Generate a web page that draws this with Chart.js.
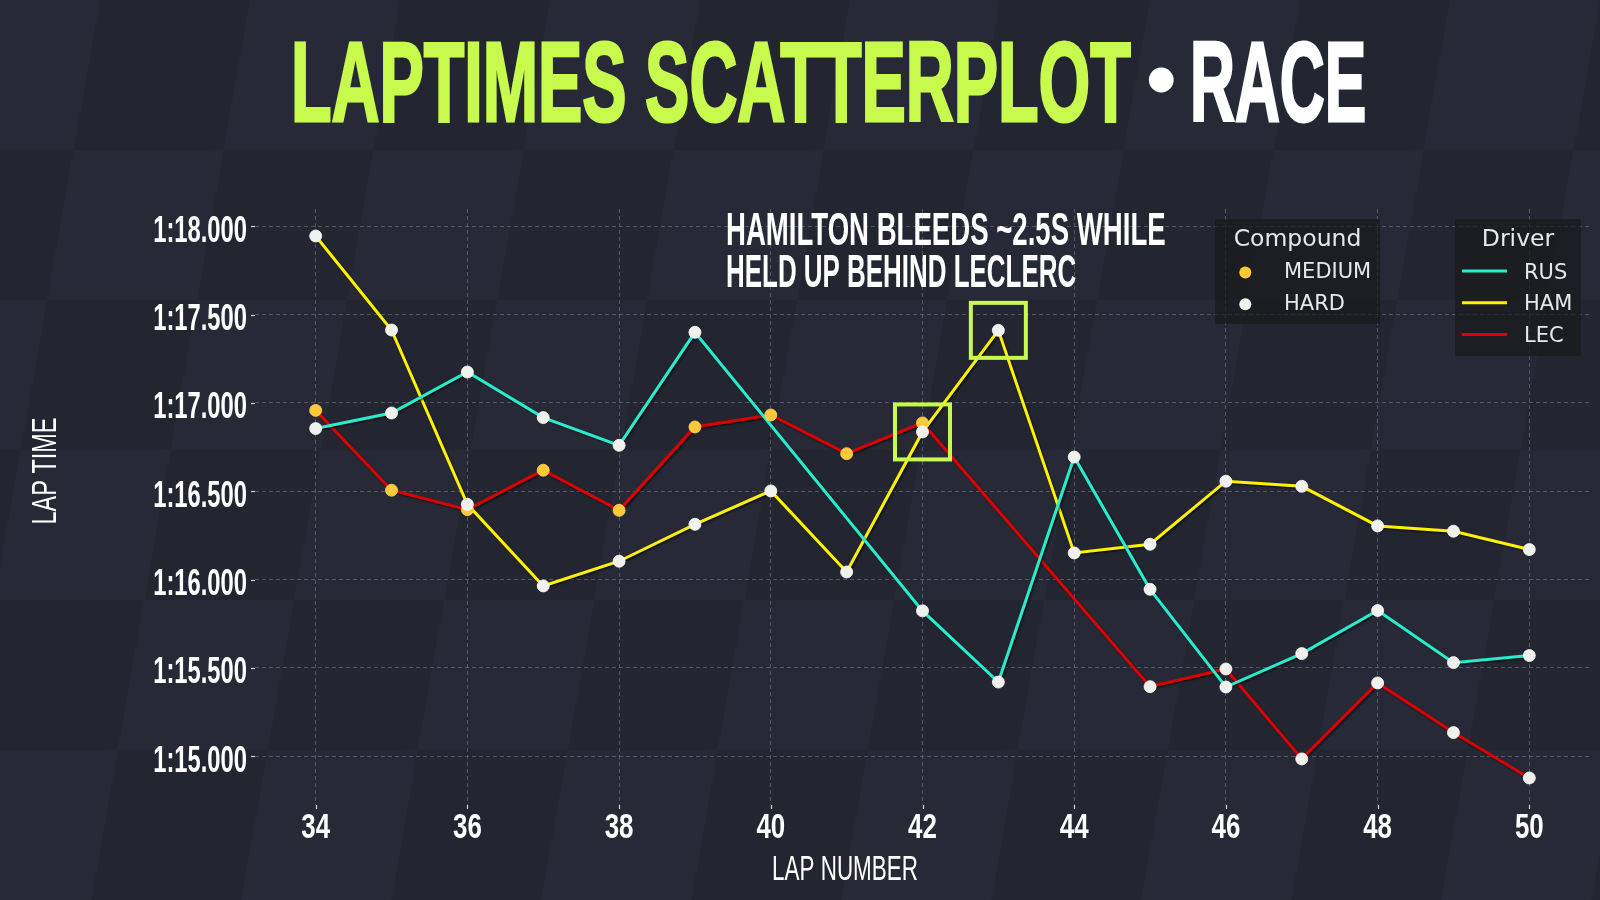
<!DOCTYPE html>
<html>
<head>
<meta charset="utf-8">
<title>Laptimes Scatterplot • Race</title>
<script src="https://cdn.jsdelivr.net/npm/chart.js@4.4.1/dist/chart.umd.min.js"></script>
<style>
    html, body { margin: 0; padding: 0; }
    body {
        width: 1600px; height: 900px; overflow: hidden; position: relative;
        background: #252833;
    }
    #bg {
        position: absolute; left: -200px; top: 0; width: 2200px; height: 900px;
        background: repeating-conic-gradient(#272a36 0 25%, #232631 0 50%) 0 0 / 300px 300px;
        transform: skewX(-10deg); transform-origin: 0 0;
    }
    #title { position: absolute; left: 0; top: 0; margin: 0; font-weight: bold; }
    #title span { position: absolute; white-space: nowrap; transform-origin: 0 0; }
    #title .lime { color: #c8fa4e; -webkit-text-stroke: 3px #c8fa4e; }
    #title .white { color: #ffffff; -webkit-text-stroke: 3px #ffffff; }
    #chart { position: absolute; left: 0; top: 0; }
</style>
</head>
<body>
<div id="bg"></div>
<h1 id="title"><span id="t1" class="lime">LAPTIMES SCATTERPLOT</span><span id="t2" class="white">•</span><span id="t3" class="white">RACE</span></h1>
<canvas id="chart" width="1600" height="900"></canvas>

<script>
// --- data (lap times in seconds) ---
const laps = [34, 35, 36, 37, 38, 39, 40, 41, 42, 43, 44, 45, 46, 47, 48, 49, 50];

const rusTimes = [76.855, 76.943, 77.175, 76.917, 76.760, 77.400, null, null, 75.823, 75.420, 76.694, 75.945, 75.392, 75.581, 75.825, 75.530, 75.570];
const hamTimes = [77.945, 77.413, 76.426, 75.964, 76.104, 76.313, 76.502, 76.043, 76.836, 77.411, 76.151, 76.200, 76.557, 76.528, 76.304, 76.274, 76.170];
const lecTimes = [76.958, 76.506, 76.396, 76.619, 76.392, 76.864, 76.932, 76.713, 76.887, null, null, 75.394, 75.494, 74.985, 75.415, 75.134, 74.877];

const rusCompounds = ['HARD', 'HARD', 'HARD', 'HARD', 'HARD', 'HARD', null, null, 'HARD', 'HARD', 'HARD', 'HARD', 'HARD', 'HARD', 'HARD', 'HARD', 'HARD'];
const hamCompounds = ['HARD', 'HARD', 'HARD', 'HARD', 'HARD', 'HARD', 'HARD', 'HARD', 'HARD', 'HARD', 'HARD', 'HARD', 'HARD', 'HARD', 'HARD', 'HARD', 'HARD'];
const lecCompounds = ['MEDIUM', 'MEDIUM', 'MEDIUM', 'MEDIUM', 'MEDIUM', 'MEDIUM', 'MEDIUM', 'MEDIUM', 'MEDIUM', null, null, 'HARD', 'HARD', 'HARD', 'HARD', 'HARD', 'HARD'];

const drivers = ['RUS', 'HAM', 'LEC'];
const compounds = ['MEDIUM', 'HARD'];

const xTicks = [34, 36, 38, 40, 42, 44, 46, 48, 50];
const yTicks = [75.0, 75.5, 76.0, 76.5, 77.0, 77.5, 78.0];

// laps boxed in the annotation (Hamilton's points)
const boxedLaps = [42, 43];
const annotationLines = ['HAMILTON BLEEDS ~2.5S WHILE', 'HELD UP BEHIND LECLERC'];
const annotationWidths = [437, 348];

// --- styles ---
const driverColors = { RUS: '#27ecce', HAM: '#fff200', LEC: '#dc0000' };
const compoundColors = { MEDIUM: '#fdc938', HARD: '#f0f0ec' };
const LIME = '#c8fa4e';
const COND = "'Liberation Sans', Arial, sans-serif";
const LEGEND_FONT = "'DejaVu Sans', sans-serif";

const series = {
    RUS: { times: rusTimes, comp: rusCompounds },
    HAM: { times: hamTimes, comp: hamCompounds },
    LEC: { times: lecTimes, comp: lecCompounds }
};

function driverPoints(d) {
    return laps.map((lap, i) => ({ x: lap, y: series[d].times[i] })).filter(p => p.y !== null);
}

function compoundPoints(c) {
    const pts = [];
    drivers.forEach(d => {
        laps.forEach((lap, i) => {
            if (series[d].comp[i] === c && series[d].times[i] !== null) {
                pts.push({ x: lap, y: series[d].times[i] });
            }
        });
    });
    return pts;
}

function formatLap(v) {
    const min = Math.floor(v / 60);
    const sec = (v - min * 60).toFixed(3).padStart(6, '0');
    return min + ':' + sec;
}

// condensed text: scale horizontally around the anchor
function drawCond(ctx, text, x, y, o) {
    ctx.save();
    ctx.font = `${o.weight || 'bold'} ${o.size}px ${COND}`;
    ctx.fillStyle = o.color || '#ffffff';
    ctx.textAlign = o.align || 'left';
    ctx.textBaseline = 'alphabetic';
    let sx = o.sx;
    if (o.width) {
        const m = ctx.measureText(text);
        sx = o.width / (m.actualBoundingBoxLeft + m.actualBoundingBoxRight);
    }
    ctx.translate(x, y);
    if (o.rotate) ctx.rotate(o.rotate);
    ctx.scale(sx, 1);
    ctx.fillText(text, 0, 0);
    ctx.restore();
}

const datasets = [];
drivers.forEach(d => {
    datasets.push({
        type: 'line',
        label: d,
        data: driverPoints(d),
        borderColor: driverColors[d],
        borderWidth: 3,
        pointRadius: 0,
        fill: false,
        tension: 0,
        order: 3
    });
});
compounds.forEach(c => {
    datasets.push({
        type: 'scatter',
        label: c,
        data: compoundPoints(c),
        backgroundColor: compoundColors[c],
        borderColor: c === 'HARD' ? '#ffffff' : '#ffd75e',
        borderWidth: 0.8,
        pointRadius: 6,
        order: c === 'HARD' ? 1 : 2
    });
});

// soft shadow under the driver lines
const lineShadow = {
    id: 'lineShadow',
    beforeDatasetDraw(chart, args) {
        if (args.meta.type !== 'line') return;
        const ctx = chart.ctx;
        ctx.save();
        ctx.shadowColor = 'rgba(0, 0, 0, 0.55)';
        ctx.shadowOffsetX = 1.5;
        ctx.shadowOffsetY = 1.5;
        ctx.shadowBlur = 1.5;
    },
    afterDatasetDraw(chart, args) {
        if (args.meta.type !== 'line') return;
        chart.ctx.restore();
    }
};

const decor = {
    id: 'decor',
    afterDatasetsDraw(chart) {
        const { ctx, scales: { x, y } } = chart;
        ctx.save();
        ctx.strokeStyle = LIME;
        ctx.lineWidth = 4;
        boxedLaps.forEach(lap => {
            const i = laps.indexOf(lap);
            const px = x.getPixelForValue(lap);
            const py = y.getPixelForValue(hamTimes[i]);
            ctx.strokeRect(px - 27.5, py - 27.5, 55, 55);
        });
        ctx.restore();
    },
    afterDraw(chart) {
        const { ctx, chartArea: a, scales: { x, y } } = chart;

        // tick marks
        ctx.save();
        ctx.strokeStyle = '#cfd0d4';
        ctx.lineWidth = 1.2;
        y.ticks.forEach(t => {
            const py = Math.round(y.getPixelForValue(t.value)) + 0.5;
            ctx.beginPath(); ctx.moveTo(a.left - 4, py); ctx.lineTo(a.left, py); ctx.stroke();
        });
        x.ticks.forEach(t => {
            const px = Math.round(x.getPixelForValue(t.value)) + 0.5;
            ctx.beginPath(); ctx.moveTo(px, a.bottom); ctx.lineTo(px, a.bottom + 4); ctx.stroke();
        });
        ctx.restore();

        // tick labels
        y.ticks.forEach(t => {
            drawCond(ctx, formatLap(t.value), a.left - 8, y.getPixelForValue(t.value) + 15.4,
                { size: 36, sx: 0.66, align: 'right' });
        });
        x.ticks.forEach(t => {
            drawCond(ctx, String(t.value), x.getPixelForValue(t.value), a.bottom + 33,
                { size: 35, sx: 0.74, align: 'center' });
        });

        // axis titles
        drawCond(ctx, 'LAP NUMBER', 845, 880, { size: 34.5, sx: 0.65, align: 'center', weight: 'normal' });
        drawCond(ctx, 'LAP TIME', 56, 471, { size: 35, sx: 0.67, align: 'center', weight: 'normal', rotate: -Math.PI / 2 });

        // annotation
        annotationLines.forEach((line, i) => {
            drawCond(ctx, line, 726, 245 + i * 42.3, { size: 45.5, width: annotationWidths[i] });
        });

        // legends
        ctx.save();
        ctx.fillStyle = 'rgba(26, 26, 28, 0.72)';
        ctx.fillRect(1215, 219, 165, 105);
        ctx.fillRect(1455, 219, 126, 137);
        ctx.fillStyle = '#e8e8e8';
        ctx.textBaseline = 'alphabetic';
        ctx.font = `23.5px ${LEGEND_FONT}`;
        ctx.textAlign = 'center';
        ctx.fillText('Compound', 1297.5, 246.3);
        ctx.fillText('Driver', 1518, 246.3);
        ctx.font = `21px ${LEGEND_FONT}`;
        ctx.textAlign = 'left';
        compounds.forEach((c, i) => {
            const cy = 272.5 + i * 31.7;
            ctx.beginPath();
            ctx.fillStyle = compoundColors[c];
            ctx.arc(1245.3, cy, 6, 0, Math.PI * 2);
            ctx.fill();
            ctx.fillStyle = '#e8e8e8';
            ctx.fillText(c, 1284, cy + 5.8);
        });
        drivers.forEach((d, i) => {
            const cy = 271 + i * 31.8;
            ctx.strokeStyle = driverColors[d];
            ctx.lineWidth = 3;
            ctx.beginPath(); ctx.moveTo(1462, cy); ctx.lineTo(1507, cy); ctx.stroke();
            ctx.fillStyle = '#e8e8e8';
            ctx.fillText(d, 1524, cy + 7.6);
        });
        ctx.restore();
    }
};

const gridStyle = { color: 'rgba(140, 143, 155, 0.45)', lineWidth: 1, drawTicks: false };

new Chart(document.getElementById('chart'), {
    data: { datasets },
    options: {
        responsive: false,
        animation: false,
        devicePixelRatio: 1,
        layout: { padding: { left: 255, top: 209, right: 10, bottom: 95 } },
        plugins: { legend: { display: false }, tooltip: { enabled: false } },
        events: [],
        scales: {
            x: {
                type: 'linear',
                min: 33.2,
                max: 50.8,
                afterBuildTicks: s => { s.ticks = xTicks.map(v => ({ value: v })); },
                ticks: { display: false },
                grid: gridStyle,
                border: { display: false, dash: [4, 3] }
            },
            y: {
                type: 'linear',
                min: 74.724,
                max: 78.098,
                afterBuildTicks: s => { s.ticks = yTicks.map(v => ({ value: v })); },
                ticks: { display: false },
                grid: gridStyle,
                border: { display: false, dash: [4, 3] }
            }
        }
    },
    plugins: [lineShadow, decor]
});

// --- title: fit each part to its box in the reference ---
const meas = document.createElement('canvas').getContext('2d');
function placeTitle(el, size, inkLeft, inkWidth, inkMidY) {
    const font = `bold ${size}px ${COND}`;
    meas.font = font;
    const m = meas.measureText(el.textContent);
    const w = m.actualBoundingBoxLeft + m.actualBoundingBoxRight;
    const sx = inkWidth ? (inkWidth - 3) / w : 1;
    const baseline = (size - (m.fontBoundingBoxAscent + m.fontBoundingBoxDescent)) / 2 + m.fontBoundingBoxAscent;
    const mid = (m.actualBoundingBoxAscent - m.actualBoundingBoxDescent) / 2;
    el.style.font = font;
    el.style.lineHeight = size + 'px';
    el.style.transform = `scaleX(${sx})`;
    el.style.left = (inkLeft + 1.5 + m.actualBoundingBoxLeft * sx) + 'px';
    el.style.top = (inkMidY + mid - baseline) + 'px';
}

placeTitle(document.getElementById('t1'), 113, 294, 838, 82.5);
placeTitle(document.getElementById('t3'), 113, 1192, 173, 82.5);

// bullet: round dot about 25px across
const bullet = document.getElementById('t2');
meas.font = `bold 100px ${COND}`;
const bm = meas.measureText('•');
const bSize = 100 * 22 / (bm.actualBoundingBoxAscent + bm.actualBoundingBoxDescent);
meas.font = `bold ${bSize}px ${COND}`;
const bm2 = meas.measureText('•');
placeTitle(bullet, bSize, 1161.5 - (bm2.actualBoundingBoxLeft + bm2.actualBoundingBoxRight) / 2 - 1.5, 0, 80.7);
</script>
</body>
</html>
